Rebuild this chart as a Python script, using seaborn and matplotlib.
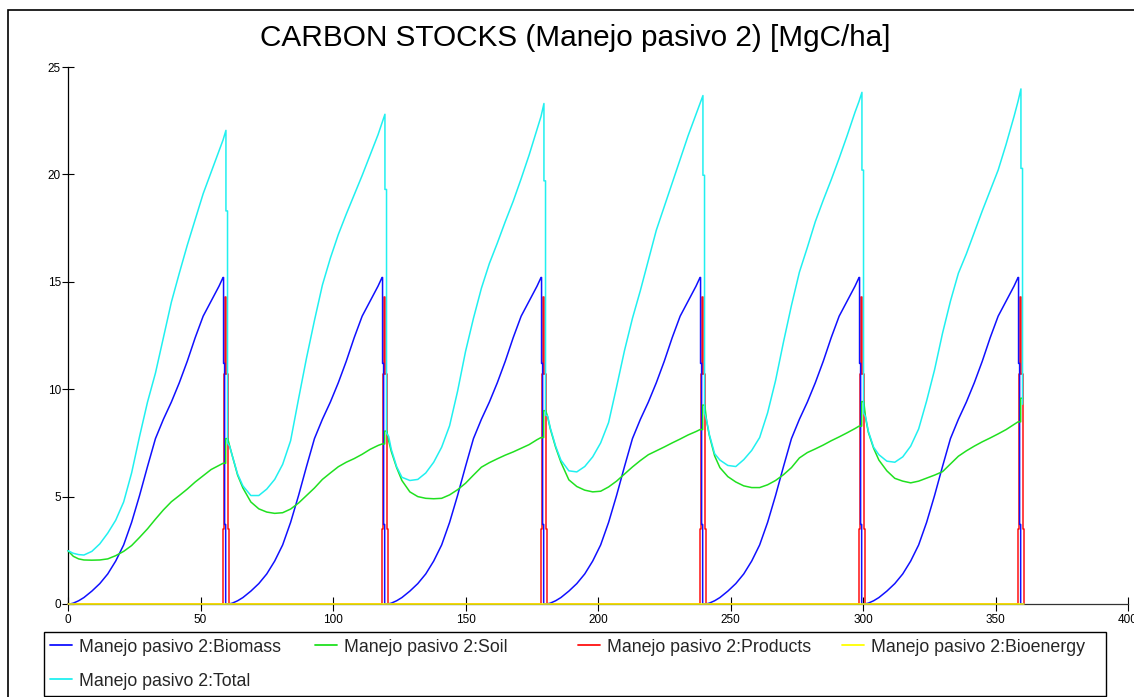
import numpy as np
import pandas as pd
import seaborn as sns
import matplotlib.pyplot as plt
from matplotlib.lines import Line2D
from matplotlib.patches import Rectangle

sns.set_theme(style="white")
plt.rcParams['font.family'] = ['Liberation Sans', 'DejaVu Sans']

# harvest years (end of each 60 year rotation)
harvest_years = [60, 120, 180, 240, 300, 360]

# years since the start of a rotation where the curves were read
rot_years = [1, 2, 4, 6, 9, 12, 15, 18, 21, 24, 27, 30, 33, 36, 39, 42, 45, 48, 51, 54, 57, 58.5]

# values at year 0
start_biomass = 0.0
start_soil = 2.48
start_total = 2.48

# biomass regrowth (reads the same in every rotation)
biomass_rot = [0.01, 0.04, 0.15, 0.3, 0.6, 0.95, 1.4, 2.0, 2.75, 3.8, 5.05, 6.4,
               7.7, 8.6, 9.4, 10.3, 11.3, 12.4, 13.4, 14.1, 14.8, 15.2]

soil_rot = [
    [2.35, 2.22, 2.1, 2.05, 2.04, 2.05, 2.1, 2.25, 2.45, 2.72, 3.1, 3.5, 3.95, 4.38, 4.76, 5.05, 5.35, 5.68, 5.97, 6.26, 6.45, 6.55],
    [7.35, 6.9, 6.0, 5.4, 4.75, 4.43, 4.28, 4.22, 4.25, 4.42, 4.7, 5.05, 5.4, 5.8, 6.1, 6.39, 6.6, 6.77, 6.97, 7.2, 7.38, 7.45],
    [7.6, 7.1, 6.35, 5.75, 5.22, 5.0, 4.92, 4.9, 4.92, 5.08, 5.32, 5.62, 6.0, 6.37, 6.58, 6.76, 6.93, 7.08, 7.25, 7.42, 7.65, 7.75],
    [8.7, 8.15, 7.3, 6.6, 5.78, 5.47, 5.3, 5.22, 5.25, 5.45, 5.72, 6.05, 6.38, 6.68, 6.95, 7.13, 7.31, 7.5, 7.68, 7.87, 8.03, 8.12],
    [8.5, 7.85, 6.9, 6.35, 5.93, 5.68, 5.5, 5.42, 5.42, 5.55, 5.75, 6.02, 6.35, 6.8, 7.05, 7.22, 7.4, 7.6, 7.78, 7.97, 8.17, 8.28],
    [8.65, 8.0, 7.25, 6.7, 6.2, 5.85, 5.72, 5.64, 5.72, 5.86, 6.0, 6.16, 6.52, 6.88, 7.13, 7.35, 7.55, 7.73, 7.92, 8.12, 8.36, 8.48],
]

total_rot = [
    [2.42, 2.36, 2.3, 2.28, 2.45, 2.8, 3.3, 3.9, 4.75, 6.1, 7.8, 9.4, 10.75, 12.4, 14.05, 15.4, 16.7, 17.9, 19.1, 20.1, 21.1, 21.6],
    [7.35, 6.9, 6.05, 5.5, 5.05, 5.05, 5.35, 5.8, 6.5, 7.6, 9.55, 11.45, 13.2, 14.85, 16.1, 17.2, 18.15, 19.05, 19.95, 20.9, 21.85, 22.4],
    [7.8, 7.2, 6.4, 5.9, 5.75, 5.8, 6.1, 6.6, 7.3, 8.3, 9.9, 11.75, 13.3, 14.7, 15.85, 16.8, 17.8, 18.75, 19.8, 20.9, 22.1, 22.7],
    [8.75, 8.2, 7.35, 6.7, 6.2, 6.15, 6.4, 6.85, 7.5, 8.45, 10.1, 11.8, 13.3, 14.6, 16.0, 17.4, 18.5, 19.6, 20.7, 21.8, 22.8, 23.3],
    [8.55, 7.9, 7.0, 6.7, 6.45, 6.4, 6.72, 7.15, 7.75, 8.9, 10.4, 12.2, 13.9, 15.45, 16.6, 17.8, 18.8, 19.75, 20.75, 21.8, 22.9, 23.4],
    [8.7, 8.05, 7.3, 6.95, 6.65, 6.6, 6.85, 7.35, 8.15, 9.45, 10.9, 12.6, 14.1, 15.4, 16.3, 17.3, 18.3, 19.25, 20.2, 21.4, 22.7, 23.4],
]

# harvest sub-steps (years relative to the harvest year)
biomass_cut_steps = [-1.3, -0.9, -0.5]
biomass_cut_vals = [11.2, 3.7, 0.0]
products_steps = [-1.4, -1.0, -0.6, -0.2, 0.2, 0.6]
products_vals = [3.5, 10.7, 14.3, 10.7, 3.5, 0.0]
soil_jump = [7.7, 8.05, 9.0, 9.26, 9.42, 9.58]
total_peak = [22.05, 22.8, 23.3, 23.67, 23.82, 23.98]
total_step = [18.3, 19.3, 19.7, 19.96, 20.2, 20.28]
total_after = [7.5, 7.95, 8.8, 8.9, 8.9, 9.3]

bioenergy_years = [0, 360.8]
bioenergy_vals = [0.0, 0.0]


def steps(h, offs, vals, prev):
    pts = []
    for s, v in zip(offs, vals):
        pts += [(h + s, prev), (h + s, v)]
        prev = v
    return pts


biomass_pts = [(0, start_biomass)]
soil_pts = [(0, start_soil)]
total_pts = [(0, start_total)]
products_pts = [(0, 0.0)]
for k, h in enumerate(harvest_years):
    t0 = h - 60
    biomass_pts += [(t0 + r, v) for r, v in zip(rot_years, biomass_rot)]
    biomass_pts += steps(h, biomass_cut_steps, biomass_cut_vals, biomass_rot[-1])
    soil_pts += [(t0 + r, v) for r, v in zip(rot_years, soil_rot[k])]
    soil_pts += [(h - 0.5, soil_rot[k][-1]), (h - 0.5, soil_jump[k]), (h + 0.3, soil_jump[k])]
    total_pts += [(t0 + r, v) for r, v in zip(rot_years, total_rot[k])]
    total_pts += [(h - 0.4, total_peak[k]), (h - 0.4, total_step[k]),
                  (h + 0.2, total_step[k]), (h + 0.2, total_after[k])]
    products_pts += steps(h, products_steps, products_vals, 0.0)
biomass_pts += [(harvest_years[-1] + 0.6, 0.0)]

series = [
    ("Manejo pasivo 2:Products", products_pts, "#FF1010", 2),
    ("Manejo pasivo 2:Biomass", biomass_pts, "#1010FF", 3),
    ("Manejo pasivo 2:Soil", soil_pts, "#20E020", 3),
    ("Manejo pasivo 2:Total", total_pts, "#20F0F0", 3),
    ("Manejo pasivo 2:Bioenergy", list(zip(bioenergy_years, bioenergy_vals)), "#FFFF00", 5),
]

fig = plt.figure(figsize=(11.34, 6.97), dpi=100)
ax = fig.add_axes([68 / 1134, 1 - 604 / 697, 1060 / 1134, 537 / 697])

for name, pts, color, z in series:
    df = pd.DataFrame(pts, columns=["year", "value"])
    sns.lineplot(data=df, x="year", y="value", estimator=None, sort=False,
                 color=color, linewidth=1.1, zorder=z, clip_on=False, ax=ax)

ax.set_xlim(0, 400)
ax.set_ylim(0, 25)
ax.set_xticks(np.arange(0, 401, 50))
ax.set_yticks(np.arange(0, 26, 5))
ax.set_xlabel("")
ax.set_ylabel("")
for s in ["top", "right"]:
    ax.spines[s].set_visible(False)
ax.spines["left"].set_color("black")
ax.spines["bottom"].set_color("#333333")
ax.spines["left"].set_linewidth(0.9)
ax.spines["bottom"].set_linewidth(0.9)
ax.tick_params(axis="y", direction="inout", length=8.6, width=0.8, pad=0.8,
               labelsize=8.5, colors="black", left=True)
ax.tick_params(axis="x", direction="inout", length=10, width=0.8, pad=2.2,
               labelsize=8.5, colors="black", bottom=True)

fig.text(575 / 1134, 1 - 38 / 697, "CARBON STOCKS (Manejo pasivo 2) [MgC/ha]",
         ha="center", va="center", fontsize=21.4, color="black")

# outer frame and legend box
fig.add_artist(Rectangle((8 / 1134, -0.1), 1.2, 1 - 10 / 697 + 0.1, transform=fig.transFigure,
                         fill=False, edgecolor="black", linewidth=1.2))
fig.add_artist(Rectangle((44 / 1134, 1 - 696 / 697), (1106 - 44) / 1134, 64 / 697,
                         transform=fig.transFigure, fill=False, edgecolor="black", linewidth=1.0))

legend_pos = {
    "Manejo pasivo 2:Biomass": (50, 647),
    "Manejo pasivo 2:Soil": (315, 647),
    "Manejo pasivo 2:Products": (578, 647),
    "Manejo pasivo 2:Bioenergy": (842, 647),
    "Manejo pasivo 2:Total": (50, 681),
}
for name, pts, color, z in series:
    x, y = legend_pos[name]
    h = Line2D([], [], color=color, linewidth=1.3)
    fig.legend(handles=[h], labels=[name], loc="center left",
               bbox_to_anchor=(x / 1134, 1 - y / 697), bbox_transform=fig.transFigure,
               frameon=False, borderpad=0, borderaxespad=0, handlelength=1.24,
               handletextpad=0.39, fontsize=12.8)

fig.savefig("out.png", dpi=100)
